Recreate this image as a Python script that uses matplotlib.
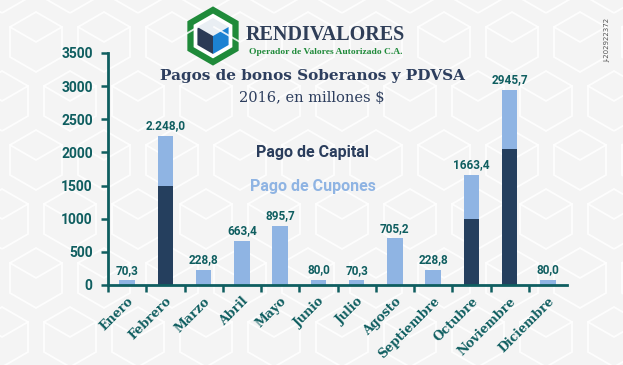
import matplotlib
matplotlib.use("Agg")
import numpy as np
import matplotlib.pyplot as plt
import matplotlib.patches as patches
from matplotlib.ticker import FixedLocator

# ── Data (millones de $) ─────────────────────────────────────────────────────
months = ["Enero", "Febrero", "Marzo", "Abril", "Mayo", "Junio", "Julio",
          "Agosto", "Septiembre", "Octubre", "Noviembre", "Diciembre"]
totals = [70.3, 2248.0, 228.8, 663.4, 895.7, 80.0, 70.3,
          705.2, 228.8, 1663.4, 2945.7, 80.0]
capital = [0, 1500, 0, 0, 0, 0, 0, 0, 0, 1000, 2050, 0]
total_labels = ["70,3", "2.248,0", "228,8", "663,4", "895,7", "80,0", "70,3",
                "705,2", "228,8", "1663,4", "2945,7", "80,0"]
yticks = [0, 500, 1000, 1500, 2000, 2500, 3000, 3500]

cupones = [t - c for t, c in zip(totals, capital)]

# ── Colours ──────────────────────────────────────────────────────────────────
BG = "#f4f4f4"
TEAL = "#0f5e60"
NAVY = "#253f5e"
LIGHT = "#8fb4e3"
GREEN = "#1f8a3a"

W, H = 623, 365
fig = plt.figure(figsize=(W / 100, H / 100), dpi=100, facecolor=BG)

# ── Background hex pattern + logo, in pixel coordinates ──────────────────────
deco = fig.add_axes([0, 0, 1, 1], zorder=0)
deco.set_xlim(0, W)
deco.set_ylim(H, 0)
deco.axis("off")

r_bg = 30
sx, sy = 68, 59
for row in range(-1, 8):
    for col in range(-1, 11):
        cx = col * sx + (sx / 2 if row % 2 else 0) + 36
        cy = row * sy + 42
        deco.add_patch(patches.RegularPolygon((cx, cy), 6, radius=r_bg,
                                              facecolor="none", edgecolor="white",
                                              lw=1.3, alpha=0.85))
        kk = 0.866 * r_bg
        deco.plot([cx - kk, cx, cx + kk], [cy - r_bg / 2, cy, cy - r_bg / 2],
                  color="white", lw=1.3, alpha=0.85)

# logo
lx, ly = 213, 36
deco.add_patch(patches.RegularPolygon((lx, ly), 6, radius=26, facecolor="white",
                                      edgecolor=GREEN, lw=4.5))
r = 18
k = 0.866 * r
top = (lx, ly - r)
ur = (lx + k, ly - r / 2)
lr = (lx + k, ly + r / 2)
bot = (lx, ly + r)
ll = (lx - k, ly + r / 2)
ul = (lx - k, ly - r / 2)
c = (lx, ly)
deco.add_patch(patches.Polygon([top, ur, c, ul], facecolor="#e9eef3", edgecolor="none"))
deco.add_patch(patches.Polygon([ul, c, bot, ll], facecolor="#2b3a55", edgecolor="none"))
deco.add_patch(patches.Polygon([c, ur, lr, bot], facecolor="#1c82d2", edgecolor="none"))

deco.text(325, 35, "RENDIVALORES", fontsize=14.5, fontweight="bold",
          family="Liberation Serif", color="#2f3e58", ha="center", va="center")
deco.text(326, 52, "Operador de Valores Autorizado C.A.", fontsize=6.8,
          fontweight="bold", family="Liberation Serif", color=GREEN,
          ha="center", va="center")

deco.text(313, 76, "Pagos de bonos Soberanos y PDVSA", fontsize=11,
          fontweight="bold", family="DejaVu Serif", color="#2d3e5e",
          ha="center", va="center")
deco.text(312, 98, "2016, en millones $", fontsize=10.5, family="DejaVu Serif",
          color="#2d3e5e", ha="center", va="center")

deco.text(313, 152, "Pago de Capital", fontsize=11.5, fontweight="bold",
          family="Roboto", color="#2a3d5c", ha="center", va="center")
deco.text(313, 186, "Pago de Cupones", fontsize=11.5, fontweight="bold",
          family="Roboto", color=LIGHT, ha="center", va="center")

deco.text(607, 40, "J-202922372", fontsize=5, rotation=90, color="#555555",
          ha="center", va="center")

# ── Chart ────────────────────────────────────────────────────────────────────
ax = fig.add_axes([108 / W, 1 - 285 / H, (567 - 108) / W, (285 - 53) / H], zorder=1)
ax.patch.set_alpha(0)

x = np.arange(len(months)) + 0.5
ax.bar(x, capital, width=0.4, color=NAVY, zorder=2)
ax.bar(x, cupones, width=0.4, bottom=capital, color=LIGHT, zorder=2)

for xi, t, lab in zip(x, totals, total_labels):
    ax.text(xi, t + 55, lab, ha="center", va="bottom", fontsize=8.5,
            fontweight="bold", family="Roboto", color=TEAL)

ax.set_xlim(0, 12)
ax.set_ylim(0, 3500)
ax.set_yticks(yticks)
ax.set_yticklabels([str(v) for v in yticks], fontsize=10, fontweight="bold",
                   family="Roboto", color=TEAL)

ax.set_xticks(x)
ax.set_xticklabels(months, rotation=45, ha="right", va="top",
                   rotation_mode="anchor", fontsize=9, fontweight="bold",
                   family="DejaVu Serif", color=TEAL)
ax.xaxis.set_minor_locator(FixedLocator(np.arange(0, 12)))
ax.tick_params(axis="x", which="major", length=0, pad=7)
ax.tick_params(axis="x", which="minor", length=5, width=1.8, color=TEAL)
ax.tick_params(axis="y", length=5, width=1.8, color=TEAL, pad=6)

for side in ["top", "right"]:
    ax.spines[side].set_visible(False)
for side in ["left", "bottom"]:
    ax.spines[side].set_color(TEAL)
    ax.spines[side].set_linewidth(2)

fig.savefig("out.png", dpi=100, facecolor=BG)
